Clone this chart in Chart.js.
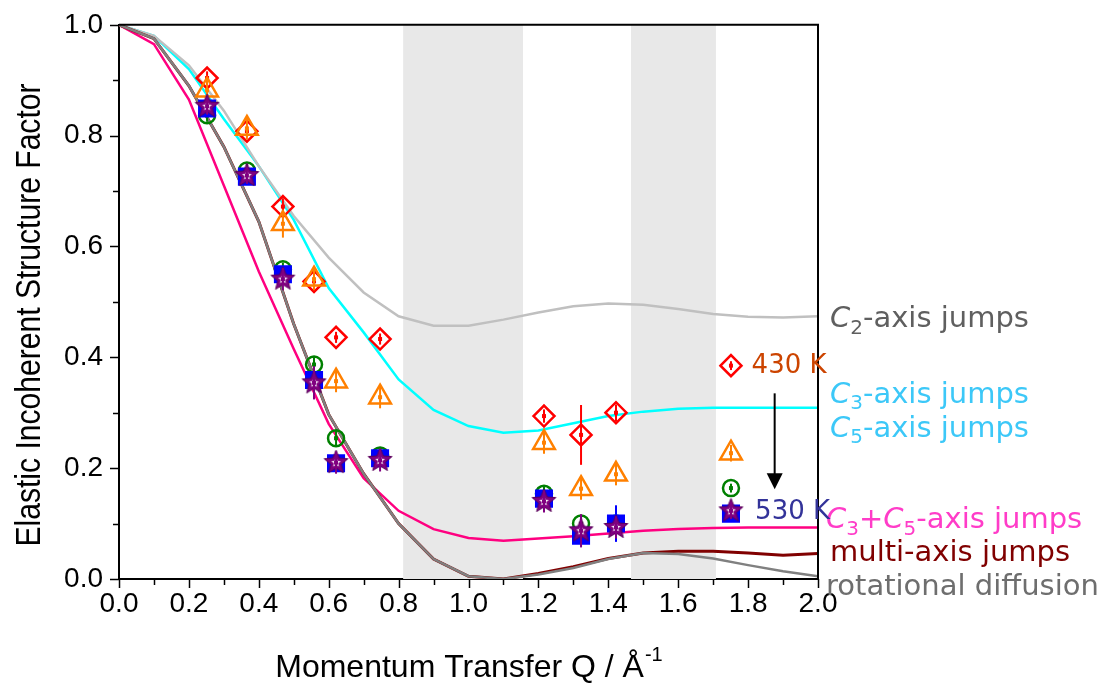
<!DOCTYPE html>
<html lang="en">
<head>
    <meta charset="UTF-8">
    <title>Elastic Incoherent Structure Factor</title>
    <script src="https://cdn.jsdelivr.net/npm/chart.js"></script>
    <style>
        body { margin: 0; background: #fff; }
        #wrap { width: 1119px; height: 683px; }
    </style>
</head>
<body>
<div id="wrap"><canvas id="eisf" width="1119" height="683"></canvas></div>
<script>
// model curves, evaluated every 0.1 in Q
const qModel = [0.0, 0.1, 0.2, 0.3, 0.4, 0.5, 0.6, 0.7, 0.8, 0.9, 1.0,
                1.1, 1.2, 1.3, 1.4, 1.5, 1.6, 1.7, 1.8, 1.9, 2.0];
const c2Jumps   = [1.0, 0.98, 0.927, 0.845, 0.745, 0.655, 0.58, 0.517, 0.474, 0.457, 0.457,
                   0.468, 0.481, 0.492, 0.497, 0.495, 0.487, 0.478, 0.473, 0.472, 0.474];
const c3Jumps   = [1.0, 0.98, 0.92, 0.83, 0.745, 0.648, 0.525, 0.445, 0.36, 0.305, 0.276,
                   0.264, 0.268, 0.281, 0.294, 0.302, 0.307, 0.309, 0.309, 0.309, 0.309];
const c3c5Jumps = [1.0, 0.965, 0.865, 0.71, 0.555, 0.415, 0.28, 0.182, 0.123, 0.09, 0.074,
                   0.069, 0.073, 0.077, 0.082, 0.087, 0.09, 0.092, 0.093, 0.093, 0.093];
const multiJumps = [1.0, 0.975, 0.89, 0.78, 0.645, 0.46, 0.297, 0.19, 0.1, 0.036, 0.005,
                    0.0, 0.01, 0.022, 0.037, 0.047, 0.05, 0.05, 0.047, 0.043, 0.046];
const rotDiffusion = [1.0, 0.975, 0.89, 0.78, 0.645, 0.46, 0.297, 0.19, 0.1, 0.036, 0.005,
                      0.0, 0.008, 0.02, 0.036, 0.047, 0.045, 0.037, 0.025, 0.014, 0.005];

// measured points (430 K ... 530 K)
const qData   = [0.252, 0.366, 0.469, 0.558, 0.621, 0.747, 1.216, 1.322, 1.422, 1.751];
const eisf430 = [0.904, 0.808, 0.672, 0.537, 0.436, 0.433, 0.294, 0.26, 0.30, 0.385];
const err430  = [0.012, 0.01, 0.015, 0.012, 0.01, 0.01, 0.012, 0.054, 0.015, 0.008];
const eisfT2  = [0.882, 0.813, 0.641, 0.541, 0.357, 0.328, 0.246, 0.163, 0.189, 0.227];
const errT2   = [0.02, 0.02, 0.025, 0.02, 0.02, 0.02, 0.02, 0.02, 0.02, 0.015];
const eisfT3  = [0.837, 0.737, 0.559, 0.387, 0.254, 0.223, 0.154, 0.1, 0.1, 0.164];
const errT3   = [0.012, 0.012, 0.012, 0.015, 0.015, 0.012, 0.012, 0.012, 0.012, 0.008];
const eisfT4  = [0.849, 0.726, 0.55, 0.359, 0.209, 0.218, 0.145, 0.078, 0.1, 0.118];
const errT4   = [0.01, 0.01, 0.012, 0.015, 0.012, 0.012, 0.012, 0.015, 0.033, 0.01];
const eisf530 = [0.853, 0.728, 0.541, 0.354, 0.21, 0.214, 0.14, 0.087, 0.093, 0.123];
const err530  = [0.015, 0.015, 0.02, 0.03, 0.02, 0.02, 0.02, 0.03, 0.02, 0.015];

const xTicks = [0.0, 0.2, 0.4, 0.6, 0.8, 1.0, 1.2, 1.4, 1.6, 1.8, 2.0];
const yTicks = [0.0, 0.2, 0.4, 0.6, 0.8, 1.0];

// grey Q ranges behind the data
const bandsQ = [[0.813, 1.156], [1.465, 1.708]];

// labels on the right, parts: [text, 'i' italic | 's' subscript | '']
const sideLabels = [
    { parts: [['C', 'i'], ['2', 's'], ['-axis jumps', '']], color: '#5f5f5f', y: 0.468 },
    { parts: [['C', 'i'], ['3', 's'], ['-axis jumps', '']], color: '#3cc8f8', y: 0.332 },
    { parts: [['C', 'i'], ['5', 's'], ['-axis jumps', '']], color: '#3cc8f8', y: 0.270 },
    { parts: [['C', 'i'], ['3', 's'], ['+', ''], ['C', 'i'], ['5', 's'], ['-axis jumps', '']], color: '#ff3cc8', y: 0.105, dx: -4 },
    { parts: [['multi-axis jumps', '']], color: '#800000', y: 0.046 },
    { parts: [['rotational diffusion', '']], color: '#6e6e6e', y: -0.016, dx: -4 }
];
const tempLabels = [
    { text: '430 K', color: '#cc4400', q: 1.81, y: 0.383 },
    { text: '530 K', color: '#333399', q: 1.82, y: 0.12 }
];
const arrowQ = 1.876, arrowFrom = 0.335, arrowTo = 0.162;

const labelFont = '"DejaVu Sans", sans-serif';
const axisFont = '"Liberation Sans", Arial, sans-serif';

function makeStar(outer, inner, fill) {
    const size = Math.ceil(outer * 2 + 4);
    const c = document.createElement('canvas');
    c.width = size; c.height = size;
    const g = c.getContext('2d');
    const cx = size / 2, cy = size / 2;
    function path(ro, ri) {
        g.beginPath();
        for (let k = 0; k < 10; k++) {
            const r = k % 2 ? ri : ro;
            const a = -Math.PI / 2 + k * Math.PI / 5;
            g.lineTo(cx + r * Math.cos(a), cy + r * Math.sin(a));
        }
        g.closePath();
    }
    path(outer, inner);
    g.fillStyle = fill; g.fill();
    g.strokeStyle = '#5a005a'; g.lineWidth = 1; g.stroke();
    path(outer * 0.4, inner * 0.4);
    g.fillStyle = '#fff'; g.fill();
    return c;
}

function toXY(xs, ys) {
    return xs.map((x, i) => ({ x: x, y: ys[i] }));
}

function curve(label, ys, color, width, order) {
    return {
        label, data: toXY(qModel, ys), showLine: true, borderColor: color,
        borderWidth: width, pointRadius: 0, tension: 0, fill: false, order
    };
}

function points(label, ys, errs, style, radius, color, fillColor, order) {
    return {
        label, data: toXY(qData, ys), errs, showLine: false, pointStyle: style,
        pointRadius: radius, pointHoverRadius: radius, borderColor: color,
        backgroundColor: fillColor, borderWidth: 2.5, order
    };
}

const bandsPlugin = {
    id: 'bands',
    beforeDatasetsDraw(chart) {
        const { ctx, chartArea, scales } = chart;
        ctx.save();
        ctx.fillStyle = '#e8e8e8';
        bandsQ.forEach(b => {
            const x0 = scales.x.getPixelForValue(b[0]);
            const x1 = scales.x.getPixelForValue(b[1]);
            ctx.fillRect(x0, chartArea.top, x1 - x0, chartArea.bottom - chartArea.top);
        });
        ctx.restore();
    }
};

const errorBarPlugin = {
    id: 'errorBars',
    afterDatasetDraw(chart, args) {
        const ds = chart.data.datasets[args.index];
        if (!ds.errs) return;
        const ctx = chart.ctx, y = chart.scales.y;
        ctx.save();
        ctx.strokeStyle = ds.barColor || ds.borderColor;
        ctx.fillStyle = ds.barColor || ds.borderColor;
        ctx.lineWidth = 2;
        args.meta.data.forEach((pt, i) => {
            const v = ds.data[i].y, e = ds.errs[i];
            ctx.beginPath();
            ctx.moveTo(pt.x, y.getPixelForValue(v + e));
            ctx.lineTo(pt.x, y.getPixelForValue(v - e));
            ctx.stroke();
            ctx.fillRect(pt.x - 2, pt.y - 2, 4, 4);
        });
        ctx.restore();
    }
};

function drawParts(ctx, parts, x, y, size) {
    parts.forEach(p => {
        let font = size + 'px ' + labelFont, dy = 0;
        if (p[1] === 'i') font = 'italic ' + font;
        if (p[1] === 's') { font = Math.round(size * 0.68) + 'px ' + labelFont; dy = size * 0.3; }
        ctx.font = font;
        ctx.fillText(p[0], x, y + dy);
        x += ctx.measureText(p[0]).width;
    });
}

const decorPlugin = {
    id: 'decor',
    afterDraw(chart) {
        const { ctx, chartArea: a, scales } = chart;
        const xs = scales.x, ys = scales.y;
        ctx.save();
        // frame on top and right
        ctx.strokeStyle = '#000';
        ctx.lineWidth = 2;
        ctx.beginPath();
        ctx.moveTo(a.left, a.top); ctx.lineTo(a.right, a.top); ctx.lineTo(a.right, a.bottom);
        ctx.stroke();
        // tick marks, major and minor
        ctx.lineWidth = 1.5;
        for (let k = 0; k <= 20; k++) {
            const px = Math.round(xs.getPixelForValue(k / 10)) + 0.5;
            const len = k % 2 ? 6 : 9;
            ctx.beginPath(); ctx.moveTo(px, a.bottom); ctx.lineTo(px, a.bottom + len); ctx.stroke();
        }
        for (let k = 0; k <= 10; k++) {
            const py = Math.round(ys.getPixelForValue(k / 10)) + 0.5;
            const len = k % 2 ? 6 : 9;
            ctx.beginPath(); ctx.moveTo(a.left, py); ctx.lineTo(a.left - len, py); ctx.stroke();
        }
        // axis titles
        ctx.fillStyle = '#000';
        ctx.font = '32px ' + axisFont;
        ctx.textBaseline = 'alphabetic';
        const main = 'Momentum Transfer Q / Å';
        const w1 = ctx.measureText(main).width;
        ctx.font = '20px ' + axisFont;
        const w2 = ctx.measureText('-1').width;
        let tx = (a.left + a.right) / 2 - (w1 + w2) / 2;
        ctx.font = '32px ' + axisFont;
        ctx.fillText(main, tx, 677);
        ctx.font = '20px ' + axisFont;
        ctx.fillText('-1', tx + w1 + 1, 661);

        ctx.save();
        ctx.translate(40, 315);
        ctx.rotate(-Math.PI / 2);
        ctx.font = '35px ' + axisFont;
        ctx.textAlign = 'center';
        const yt = 'Elastic Incoherent Structure Factor';
        ctx.scale(463 / ctx.measureText(yt).width, 1);
        ctx.fillText(yt, 0, 0);
        ctx.restore();

        // side labels
        ctx.textBaseline = 'middle';
        sideLabels.forEach(l => {
            ctx.fillStyle = l.color;
            drawParts(ctx, l.parts, a.right + 12 + (l.dx || 0), ys.getPixelForValue(l.y), 29);
        });
        tempLabels.forEach(l => {
            ctx.fillStyle = l.color;
            ctx.font = '26px ' + labelFont;
            ctx.fillText(l.text, xs.getPixelForValue(l.q), ys.getPixelForValue(l.y));
        });
        // arrow from 430 K to 530 K
        const ax = xs.getPixelForValue(arrowQ);
        const y0 = ys.getPixelForValue(arrowFrom), y1 = ys.getPixelForValue(arrowTo);
        ctx.strokeStyle = '#000'; ctx.fillStyle = '#000'; ctx.lineWidth = 2;
        ctx.beginPath(); ctx.moveTo(ax, y0); ctx.lineTo(ax, y1 - 14); ctx.stroke();
        ctx.beginPath(); ctx.moveTo(ax - 8, y1 - 16); ctx.lineTo(ax + 8, y1 - 16); ctx.lineTo(ax, y1); ctx.closePath(); ctx.fill();
        ctx.restore();
    }
};

const starStyle = makeStar(12.5, 5.5, '#800080');

new Chart(document.getElementById('eisf'), {
    type: 'scatter',
    data: {
        datasets: [
            Object.assign(points('530 K', eisf530, err530, starStyle, 12, '#800080', '#800080', 1), { barColor: '#800080' }),
            points('T4', eisfT4, errT4, 'rect', 11, '#0000ff', '#0000ff', 2),
            points('T3', eisfT3, errT3, 'circle', 8, '#008000', 'rgba(0,0,0,0)', 3),
            points('T2', eisfT2, errT2, 'triangle', 12.5, '#ff8000', 'rgba(0,0,0,0)', 4),
            points('430 K', eisf430, err430, 'rectRot', 10.5, '#ff0000', 'rgba(0,0,0,0)', 5),
            curve('rotational diffusion', rotDiffusion, '#808080', 2.5, 6),
            curve('multi-axis jumps', multiJumps, '#800000', 3, 7),
            curve('C2-axis jumps', c2Jumps, '#c0c0c0', 2.5, 8),
            curve('C3/C5-axis jumps', c3Jumps, '#00ffff', 2.5, 9),
            curve('C3+C5-axis jumps', c3c5Jumps, '#ff0080', 2.5, 10)
        ]
    },
    options: {
        responsive: false,
        animation: false,
        layout: { padding: { top: 24, right: 301, left: 0, bottom: 0 } },
        plugins: { legend: { display: false }, tooltip: { enabled: false } },
        scales: {
            x: {
                type: 'linear', min: 0, max: 2,
                afterFit: s => { s.height = 104; },
                afterBuildTicks: s => { s.ticks = xTicks.map(v => ({ value: v })); },
                grid: { display: false },
                border: { display: true, color: '#000', width: 2 },
                ticks: {
                    color: '#000', padding: 0,
                    font: { family: axisFont, size: 28 },
                    callback: v => v.toFixed(1)
                }
            },
            y: {
                type: 'linear', min: 0, max: 1,
                afterFit: s => { s.width = 119; },
                afterBuildTicks: s => { s.ticks = yTicks.map(v => ({ value: v })); },
                grid: { display: false },
                border: { display: true, color: '#000', width: 2 },
                ticks: {
                    color: '#000', padding: 8,
                    font: { family: axisFont, size: 28 },
                    callback: v => v.toFixed(1)
                }
            }
        }
    },
    plugins: [bandsPlugin, errorBarPlugin, decorPlugin]
});
</script>
</body>
</html>
